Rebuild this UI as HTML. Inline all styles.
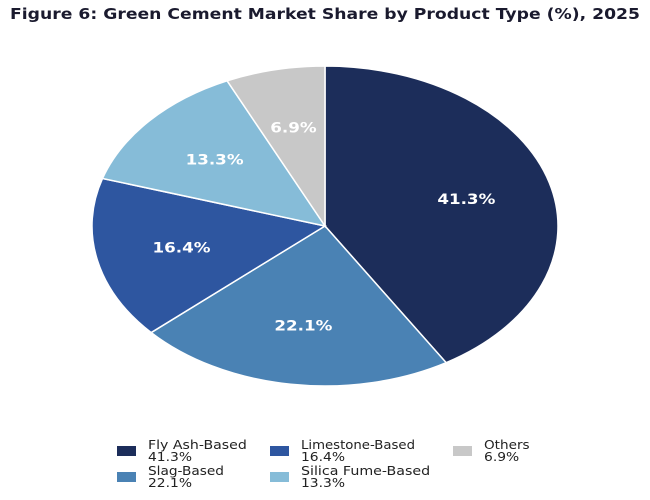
<!DOCTYPE html>
<html><head><meta charset="utf-8"><style>
html,body{margin:0;padding:0;background:#fff;}
svg{display:block;font-family:"DejaVu Sans","Liberation Sans",sans-serif;}
</style></head><body>
<svg id="chart" width="650" height="500" viewBox="0 0 650 500">
<text x="10" y="19" font-size="15" font-weight="bold" fill="#1a1a2e" textLength="630" lengthAdjust="spacingAndGlyphs">Figure 6: Green Cement Market Share by Product Type (%), 2025</text>
<g id="slices"></g>
<g id="labels"></g>
<g id="legend"></g>
</svg>
<script>
const categories = ["Fly Ash-Based","Slag-Based","Limestone-Based","Silica Fume-Based","Others"];
const values = [41.3,22.1,16.4,13.3,6.9];
const colors = ["#1c2d5a","#4a82b4","#2e56a0","#86bcd8","#c8c8c8"];
const legendOrder = [0,2,4,1,3];
const NS="http://www.w3.org/2000/svg";
const cx=325, cy=226, rx=233, ry=160;
const total=values.reduce((a,b)=>a+b,0);
function pt(frac,f){const a=frac*2*Math.PI;return [cx+Math.sin(a)*rx*f, cy-Math.cos(a)*ry*f];}
const gS=document.getElementById('slices'), gL=document.getElementById('labels'), gG=document.getElementById('legend');
let acc=0;
values.forEach((v,i)=>{
  const s=acc/total, e=(acc+v)/total; acc+=v;
  const p0=pt(s,1), p1=pt(e,1);
  const large=(e-s)>0.5?1:0;
  const path=document.createElementNS(NS,'path');
  path.setAttribute('d',`M${cx},${cy}L${p0[0]},${p0[1]}A${rx},${ry} 0 ${large} 1 ${p1[0]},${p1[1]}Z`);
  path.setAttribute('fill',colors[i]);path.setAttribute('stroke','#fff');path.setAttribute('stroke-width','1.5');
  
  
  gS.appendChild(path);
  const m=pt((s+e)/2,0.63);
  const t=document.createElementNS(NS,'text');
  const lbl=v.toFixed(1)+'%';
  t.setAttribute('x',m[0]);t.setAttribute('y',m[1]+5);t.setAttribute('text-anchor','middle');
  t.setAttribute('font-size','14');t.setAttribute('font-weight','bold');t.setAttribute('fill','#fff');
  t.setAttribute('textLength',lbl.length*11.6);t.setAttribute('lengthAdjust','spacingAndGlyphs');
  t.textContent=lbl;
  
  
  gL.appendChild(t);
});
const colX=[117,270,453], rowY=[445,471];
legendOrder.forEach((ci,k)=>{
  const col=[0,1,2,0,1][k];
  const row=k<3?0:1;
  const x=colX[col], y=rowY[row];
  const r=document.createElementNS(NS,'rect');
  r.setAttribute('x',x);r.setAttribute('y',y+1);r.setAttribute('width',19);r.setAttribute('height',10);r.setAttribute('fill',colors[ci]);
  
  
  gG.appendChild(r);
  const t1=document.createElementNS(NS,'text');
  t1.setAttribute('x',x+31);t1.setAttribute('y',y+4);t1.setAttribute('font-size','12.5');t1.setAttribute('fill','#222');
  t1.setAttribute('textLength',categories[ci].length*7.6);t1.setAttribute('lengthAdjust','spacingAndGlyphs');
  t1.textContent=categories[ci];
  
  
  gG.appendChild(t1);
  const t2=document.createElementNS(NS,'text');
  t2.setAttribute('x',x+31);t2.setAttribute('y',y+16);t2.setAttribute('font-size','12.5');t2.setAttribute('fill','#222');
  const s2=values[ci].toFixed(1)+'%';
  t2.setAttribute('textLength',s2.length*8.8);t2.setAttribute('lengthAdjust','spacingAndGlyphs');
  t2.textContent=s2;
  
  
  gG.appendChild(t2);
});
</script>
</body></html>
